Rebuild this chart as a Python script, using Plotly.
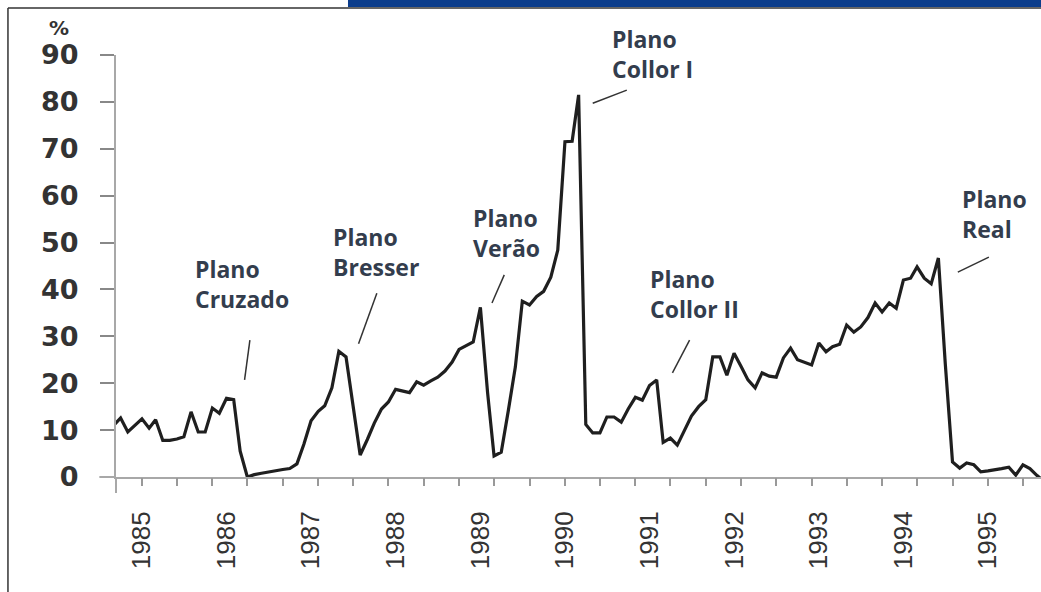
import pandas as pd
import plotly.graph_objects as go

# Monthly inflation (%), Sep 1984 .. Sep 1995
start_month = "1984-09-01"
inflation = [
    11.0, 12.6, 9.6, 11.0,                                               # 1984 Sep-Dec
    12.4, 10.4, 12.2, 7.8, 7.8, 8.1, 8.6, 13.9, 9.6, 9.6, 14.7, 13.6,    # 1985
    16.8, 16.5, 5.5, 0.0, 0.5, 0.8, 1.1, 1.4, 1.6, 1.8, 2.8, 7.0,        # 1986
    12.0, 14.0, 15.2, 19.0, 26.8, 25.6, 15.0, 4.7, 8.0, 11.5, 14.5, 16.0,  # 1987
    18.7, 18.3, 18.0, 20.3, 19.6, 20.5, 21.3, 22.6, 24.5, 27.2, 28.0, 28.8,  # 1988
    36.2, 18.0, 4.5, 5.3, 14.0, 23.5, 37.5, 36.7, 38.5, 39.6, 42.6, 48.4,  # 1989
    71.5, 71.6, 81.5, 11.2, 9.4, 9.4, 12.8, 12.8, 11.7, 14.5, 17.0, 16.4,  # 1990
    19.5, 20.7, 7.4, 8.3, 6.8, 10.0, 13.0, 15.0, 16.5, 25.6, 25.6, 21.7,   # 1991
    26.4, 23.5, 20.7, 19.0, 22.2, 21.5, 21.3, 25.4, 27.5, 25.0, 24.4, 23.9,  # 1992
    28.6, 26.7, 27.8, 28.3, 32.4, 30.9, 32.0, 34.0, 37.1, 35.2, 37.1, 36.0,  # 1993
    42.0, 42.4, 44.8, 42.4, 41.2, 46.7, 24.0, 3.2, 1.9, 3.0, 2.6, 1.1,      # 1994
    1.3, 1.5, 1.8, 2.1, 0.4, 2.6, 1.8, 0.3, -1.0,                          # 1995
]
months = pd.date_range(start_month, periods=len(inflation), freq="MS")

years = list(range(1985, 1996))
year_ticks = [f"{y}-01-01" for y in years]
year_labels = [str(y) for y in years]
y_ticks = [0, 10, 20, 30, 40, 50, 60, 70, 80, 90]

# Plan labels: text, left x, top y (paper fraction of plot height) and pointer lines
plan_text = ["Plano<br>Cruzado", "Plano<br>Bresser", "Plano<br>Verão",
             "Plano<br>Collor I", "Plano<br>Collor II", "Plano<br>Real"]
plan_x = ["1985-08-08", "1987-03-30", "1988-11-20", "1990-07-13", "1990-12-24", "1994-09-01"]
plan_y = [0.5355, 0.6114, 0.6564, 1.0806, 0.5118, 0.7014]
ptr_x0 = ["1986-04-12", "1987-10-12", "1989-04-14", "1990-09-25", "1991-06-23", "1995-01-05"]
ptr_y0 = [29.2, 39.2, 43.1, 82.5, 29.2, 46.9]
ptr_x1 = ["1986-03-20", "1987-07-25", "1989-02-20", "1990-05-01", "1991-04-10", "1994-08-24"]
ptr_y1 = [20.7, 28.4, 37.1, 79.7, 22.2, 43.7]

x_range = ["1984-09-11", "1995-08-18"]

fig = go.Figure()
fig.add_trace(go.Scatter(x=months, y=inflation, mode="lines",
                         line=dict(color="#1f1f1f", width=3.2),
                         showlegend=False, hoverinfo="x+y"))
fig.add_trace(go.Scatter(x=[months[0]], y=[None], xaxis="x2", mode="lines",
                         showlegend=False, hoverinfo="skip"))

axis_grey = "#a8a8a8"
fig.update_layout(
    width=1041, height=592,
    margin=dict(l=116, r=0, t=55, b=115),
    paper_bgcolor="white", plot_bgcolor="white",
    xaxis=dict(type="date", range=x_range, tickmode="array",
               tickvals=year_ticks, ticktext=year_labels, tickangle=-90,
               ticks="", showgrid=False, zeroline=False,
               showline=True, linecolor=axis_grey, linewidth=2,
               ticklabelstandoff=22,
               tickfont=dict(family="Liberation Sans", size=26, color="#333333")),
    xaxis2=dict(type="date", range=x_range, overlaying="x", anchor="y", side="bottom",
                tickmode="linear", tick0="1985-01-01", dtick="M5",
                ticks="outside", ticklen=8, tickwidth=1.5, tickcolor="#999999",
                showticklabels=False, showgrid=False, zeroline=False, showline=False),
    yaxis=dict(range=[0, 90], tickmode="array", tickvals=y_ticks,
               ticks="outside", ticklen=14, tickwidth=1.5, tickcolor="#888888",
               showgrid=False, zeroline=False,
               showline=True, linecolor=axis_grey, linewidth=2,
               ticklabelstandoff=16,
               tickfont=dict(family="DejaVu Sans", size=27, color="#333333", weight="bold")),
)

# axis extensions beyond the crossing point
fig.add_shape(type="line", xref="paper", yref="paper", x0=0, x1=0, y0=0, y1=-0.038,
              line=dict(color=axis_grey, width=2))
fig.add_shape(type="line", xref="paper", yref="paper", x0=-0.018, x1=0, y0=0, y1=0,
              line=dict(color=axis_grey, width=2))

# frame and blue header bar
fig.add_shape(type="rect", xref="paper", yref="paper", x0=0.2508, x1=1.05, y0=1.1137, y1=1.2,
              line=dict(width=0), fillcolor="#0b3d8c", layer="above")
fig.add_shape(type="line", xref="paper", yref="paper", x0=-0.1168, x1=1.05, y0=1.1114, y1=1.1114,
              line=dict(color="#333333", width=1.5))
fig.add_shape(type="line", xref="paper", yref="paper", x0=-0.1168, x1=-0.1168, y0=1.1114, y1=-0.3,
              line=dict(color="#333333", width=1.5))

# "%" unit label
fig.add_annotation(text="%", xref="paper", yref="paper", x=-0.0616, y=1.064,
                   xanchor="center", yanchor="middle", showarrow=False,
                   font=dict(family="DejaVu Sans", size=20, color="#333333", weight="bold"))

for txt, x, y in zip(plan_text, plan_x, plan_y):
    fig.add_annotation(text=txt, x=x, y=y, xref="x", yref="paper", xanchor="left", yanchor="top",
                       align="left", showarrow=False,
                       font=dict(family="Open Sans", size=23, color="#333d4d", weight="bold"))

for a, b, c, d in zip(ptr_x0, ptr_y0, ptr_x1, ptr_y1):
    fig.add_shape(type="line", xref="x", yref="y", x0=a, y0=b, x1=c, y1=d,
                  line=dict(color="#333333", width=1.5))

fig.write_html("out.html", config={"displayModeBar": False},
               post_script="document.body.style.margin='0';document.body.style.overflow='hidden';")
